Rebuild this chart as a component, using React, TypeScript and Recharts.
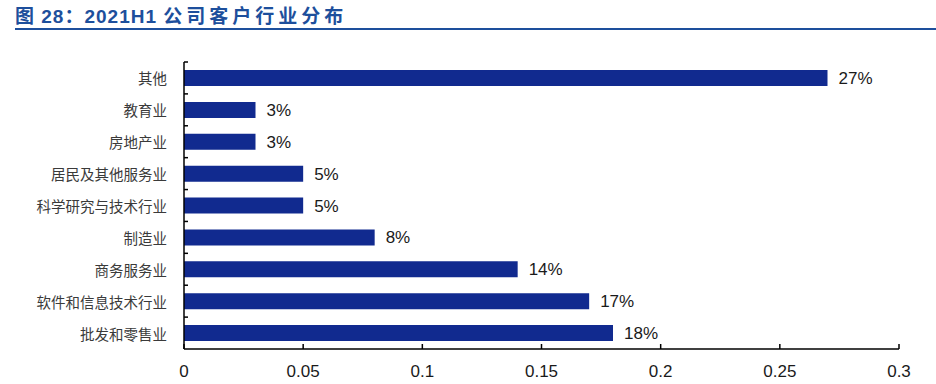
import { Bar, BarChart, LabelList, XAxis, YAxis } from "recharts";

// 行业分布（由上到下）
const industries = [
  "其他",
  "教育业",
  "房地产业",
  "居民及其他服务业",
  "科学研究与技术行业",
  "制造业",
  "商务服务业",
  "软件和信息技术行业",
  "批发和零售业",
];
const shares = [0.27, 0.03, 0.03, 0.05, 0.05, 0.08, 0.14, 0.17, 0.18];
const xTicks = [0, 0.05, 0.1, 0.15, 0.2, 0.25, 0.3];
const xTickLabels = ["0", "0.05", "0.1", "0.15", "0.2", "0.25", "0.3"];

const BAR_COLOR = "#112a8f";
const TITLE_COLOR = "#1d4f9c";
const LATIN = '"Liberation Sans", Arial, sans-serif';
const CJK = '"Noto Sans CJK SC", "Noto Sans", sans-serif';

const data = industries.map((name, i) => ({ name, value: shares[i] }));

const Y_MARGIN = 17;

// 类目轴：标签靠右，刻度线画在类目边界并朝内
function IndustryTick(props: any) {
  const { x, y, payload } = props;
  const axisX = x + Y_MARGIN;
  const top = y - (payload.offset ?? 0);
  return (
    <g>
      <line x1={axisX} x2={axisX + 4} y1={top} y2={top} stroke="#000" strokeWidth={1.5} />
      <text
        x={x}
        y={y}
        textAnchor="end"
        dominantBaseline="central"
        fontSize={14.5}
        fontFamily={CJK}
        fill="#3a3a3a"
      >
        {payload.value}
      </text>
    </g>
  );
}

export default function App() {
  return (
    <div
      style={{
        position: "absolute",
        left: 0,
        top: 0,
        width: 936,
        height: 384,
        background: "#fff",
        overflow: "hidden",
      }}
    >
      <div
        style={{
          position: "absolute",
          left: 15,
          top: 1,
          fontSize: 19,
          fontWeight: 700,
          color: TITLE_COLOR,
          whiteSpace: "nowrap",
          fontFamily: LATIN,
          letterSpacing: 1,
        }}
      >
        <span style={{ fontFamily: CJK }}>图</span>
        <span> 28</span>
        <span style={{ fontFamily: CJK }}>：</span>
        <span>2021H1 </span>
        <span style={{ fontFamily: CJK, letterSpacing: 4 }}>公司客户行业分布</span>
      </div>
      <div
        style={{
          position: "absolute",
          left: 15,
          right: 0,
          top: 28,
          height: 2,
          background: TITLE_COLOR,
        }}
      />
      <div style={{ position: "absolute", left: 0, top: 0 }}>
        <BarChart
          width={936}
          height={384}
          data={data}
          layout="vertical"
          margin={{ top: 62, right: 37, bottom: 5, left: 64 }}
        >
          <XAxis
            type="number"
            domain={[0, 0.3]}
            ticks={xTicks}
            interval={0}
            height={30}
            tickSize={-5}
            tickMargin={21}
            tickFormatter={(v: number) => xTickLabels[xTicks.indexOf(v)] ?? String(v)}
            tick={{ fontSize: 17, fill: "#1a1a1a", fontFamily: LATIN }}
            axisLine={{ stroke: "#000", strokeWidth: 1.5 }}
            tickLine={{ stroke: "#000", strokeWidth: 1.5 }}
          />
          <YAxis
            type="category"
            dataKey="name"
            width={120}
            interval={0}
            tickSize={0}
            tickMargin={Y_MARGIN}
            tick={<IndustryTick />}
            axisLine={{ stroke: "#000", strokeWidth: 1.5 }}
          />
          <Bar dataKey="value" fill={BAR_COLOR} barSize={16} isAnimationActive={false}>
            <LabelList
              dataKey="value"
              position="right"
              offset={11}
              formatter={(v: any) => `${Math.round(Number(v) * 100)}%`}
              style={{ fontSize: 17, fill: "#1a1a1a", fontFamily: LATIN }}
            />
          </Bar>
        </BarChart>
      </div>
    </div>
  );
}
